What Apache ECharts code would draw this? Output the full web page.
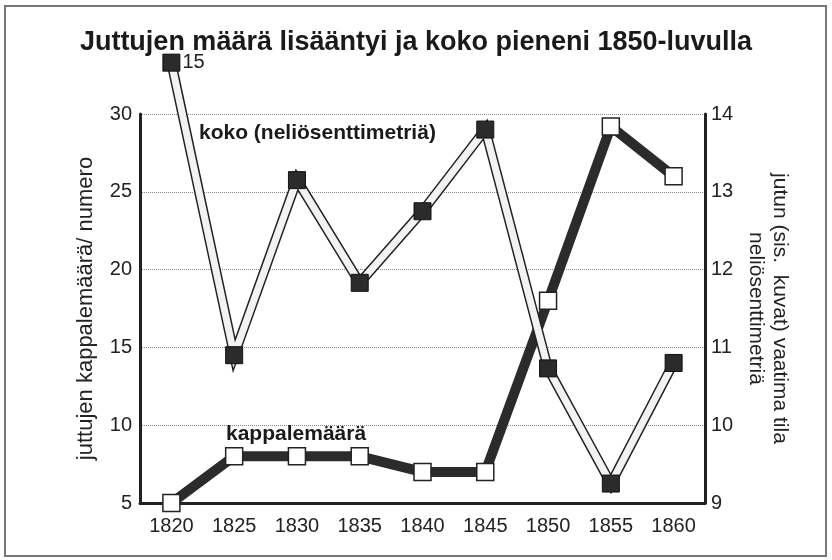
<!DOCTYPE html>
<html>
  <head>
    <meta charset="utf-8" />
    <title>Juttujen määrä</title>
    <script src="https://cdn.jsdelivr.net/npm/echarts@6/dist/echarts.min.js"></script>
    <style>
      * {
        margin: 0;
        padding: 0;
        box-sizing: border-box;
      }
      body {
        background: #fff;
      }
    </style>
  </head>
  <body>
    <div id="main" style="width: 832px; height: 560px"></div>
    <script type="text/javascript">
      var myChart = echarts.init(document.getElementById("main"));

      const years = ["1820", "1825", "1830", "1835", "1840", "1845", "1850", "1855", "1860"];
      // kappalemäärä (vasen akseli)
      const kappaleet = [5, 8, 8, 8, 7, 7, 18, 29.2, 26];
      // koko neliösenttimetreinä (oikea akseli); 1820 piirretty asteikon yli kuten alkuperäisessä
      const koko = [14.66, 10.9, 13.15, 11.83, 12.75, 13.8, 10.73, 9.25, 10.8];
      const kokoLabels = ["15", "", "", "", "", "", "", "", ""];

      const fontFamily = "'Liberation Sans', Arial, sans-serif";

      var option = {
        backgroundColor: "#fff",
        animation: false,
        textStyle: { fontFamily: fontFamily },
        title: {
          text: "Juttujen määrä lisääntyi ja koko pieneni 1850-luvulla",
          left: "center",
          top: 24,
          textStyle: {
            fontFamily: fontFamily,
            fontSize: 27,
            fontWeight: "bold",
            color: "#1a1a1a",
          },
        },
        grid: {
          left: 140,
          right: 127,
          top: 114,
          bottom: 57,
        },
        xAxis: {
          type: "category",
          data: years,
          boundaryGap: true,
          axisLine: { lineStyle: { color: "#222", width: 3 } },
          axisTick: { inside: true, length: 5, lineStyle: { color: "#333", width: 1.5 } },
          axisLabel: { fontSize: 20, color: "#222", margin: 13 },
        },
        yAxis: [
          {
            type: "value",
            min: 5,
            max: 30,
            interval: 5,
            name: "juttujen kappalemäärä/ numero",
            nameLocation: "middle",
            nameGap: 43,
            nameMoveOverlap: false,
            nameTextStyle: { fontSize: 22, color: "#222" },
            axisLine: { show: true, lineStyle: { color: "#222", width: 3 } },
            axisTick: { show: false },
            axisLabel: { fontSize: 20, color: "#222", margin: 8 },
            splitLine: { lineStyle: { color: "#888", type: "dotted", width: 1 } },
          },
          {
            type: "value",
            min: 9,
            max: 14,
            interval: 1,
            name: "jutun (sis.  kuvat) vaatima tila\nneliösenttimetriä",
            nameLocation: "middle",
            nameRotate: -90,
            nameGap: 39,
            nameMoveOverlap: false,
            nameTextStyle: { fontSize: 21, color: "#222", lineHeight: 24 },
            axisLine: { show: true, lineStyle: { color: "#222", width: 3 } },
            axisTick: { show: false },
            axisLabel: { fontSize: 20, color: "#222", margin: 6 },
            splitLine: { show: false },
          },
        ],
        graphic: [
          {
            type: "rect",
            shape: { x: 5, y: 6, width: 821, height: 550 },
            style: { fill: "none", stroke: "#777", lineWidth: 2 },
            z: -10,
          },
          {
            type: "text",
            left: 199,
            top: 123,
            style: {
              text: "koko (neliösenttimetriä)",
              font: "bold 21px " + fontFamily,
              fill: "#1a1a1a",
            },
            z: 100,
          },
          {
            type: "text",
            left: 226,
            top: 424,
            style: {
              text: "kappalemäärä",
              font: "bold 21px " + fontFamily,
              fill: "#1a1a1a",
            },
            z: 100,
          },
        ],
        series: [
          {
            name: "kappalemäärä",
            type: "line",
            data: kappaleet,
            yAxisIndex: 0,
            z: 2,
            symbol: "rect",
            symbolSize: 17,
            lineStyle: { color: "#2b2b2b", width: 10, join: "miter" },
            itemStyle: { color: "#fff", borderColor: "#222", borderWidth: 1.5 },
          },
          {
            name: "koko-reuna",
            type: "line",
            data: koko,
            yAxisIndex: 1,
            clip: false,
            z: 3,
            symbol: "none",
            lineStyle: { color: "#222", width: 10, join: "miter", miterLimit: 6 },
          },
          {
            name: "koko",
            type: "line",
            data: koko,
            yAxisIndex: 1,
            clip: false,
            z: 4,
            symbol: "rect",
            symbolSize: 17,
            lineStyle: { color: "#f2f2f2", width: 7, join: "miter", miterLimit: 6 },
            itemStyle: { color: "#2b2b2b", borderColor: "#111", borderWidth: 1 },
            label: {
              show: true,
              position: "right",
              distance: 2,
              fontSize: 20,
              color: "#222",
              formatter: function (p) {
                return kokoLabels[p.dataIndex];
              },
            },
          },
        ],
      };

      myChart.setOption(option);

      window.addEventListener("resize", function () {
        myChart.resize();
      });
    </script>
  </body>
</html>
